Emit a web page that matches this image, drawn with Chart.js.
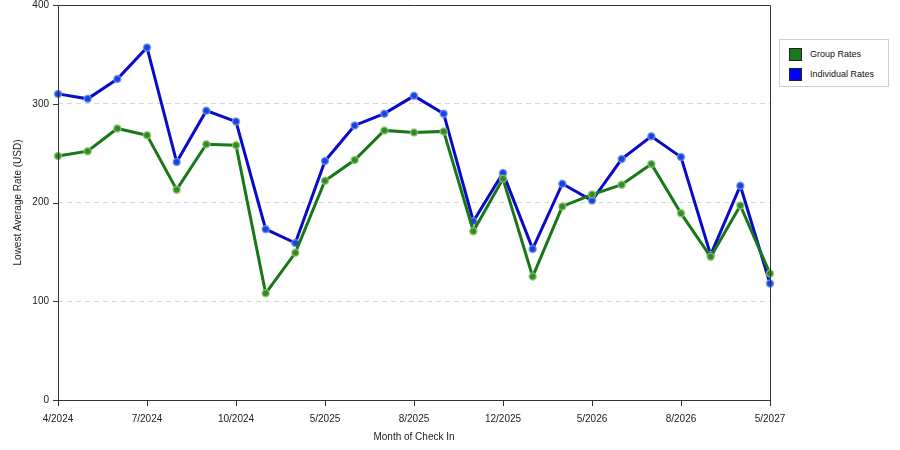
<!DOCTYPE html>
<html>
<head>
<meta charset="utf-8">
<script src="https://cdn.jsdelivr.net/npm/chart.js@4/dist/chart.umd.min.js"></script>
<style>
  html, body { margin: 0; padding: 0; background: #fff; }
  #wrap { position: relative; width: 900px; height: 450px; }
  #legend {
    position: absolute; left: 779px; top: 39px; width: 108px; height: 46px;
    border: 1px solid #cfcfcf; background: #fff;
    font: 9px "Liberation Sans", Arial, sans-serif; color: #111;
  }
  #legend .item { position: absolute; left: 9px; height: 13px; line-height: 13px; }
  #legend .sw { position: absolute; left: 0; top: 0; width: 11px; height: 11px; border: 1px solid #222; }
  #legend .txt { position: absolute; left: 21px; top: 0; white-space: nowrap; }
</style>
</head>
<body>
<div id="wrap">
  <canvas id="chart" width="900" height="450"></canvas>
  <div id="legend"></div>
</div>
<script>
// months of check in (only every third label is printed on the axis)
const months = [
  "4/2024", "5/2024", "6/2024", "7/2024", "8/2024", "9/2024", "10/2024", "11/2024",
  "4/2025", "5/2025", "6/2025", "7/2025", "8/2025", "9/2025", "10/2025", "12/2025",
  "3/2026", "4/2026", "5/2026", "6/2026", "7/2026", "8/2026", "9/2026", "10/2026", "5/2027"
];
const groupRates = [247, 252, 275, 268, 213, 259, 258, 108, 149, 222, 243, 273, 271, 272, 171, 224, 125, 196, 208, 218, 239, 189, 145, 197, 128];
const individualRates = [310, 305, 325, 357, 241, 293, 282, 173, 159, 242, 278, 290, 308, 290, 181, 230, 153, 219, 202, 244, 267, 246, 147, 217, 118];
const yTicks = [0, 100, 200, 300, 400];

const FONT = "'Liberation Sans', Arial, sans-serif";

// frame around the plot + small tick marks on the y axis
const framePlugin = {
  id: "frame",
  afterDraw(chart) {
    const { ctx, chartArea: a, scales } = chart;
    ctx.save();
    ctx.strokeStyle = "#333";
    ctx.lineWidth = 1;
    ctx.beginPath();
    ctx.rect(Math.round(a.left) + 0.5, Math.round(a.top) + 0.5,
             Math.round(a.right - a.left), Math.round(a.bottom - a.top));
    yTicks.forEach(v => {
      const y = Math.round(scales.y.getPixelForValue(v)) + 0.5;
      ctx.moveTo(a.left - 5, y);
      ctx.lineTo(a.left, y);
    });
    ctx.stroke();
    ctx.restore();
  }
};

const ctx = document.getElementById("chart").getContext("2d");
const chart = new Chart(ctx, {
  type: "line",
  data: {
    labels: months,
    datasets: [
      {
        label: "Group Rates",
        data: groupRates,
        borderColor: "#187818",
        backgroundColor: "#1a7a1a",
        pointBackgroundColor: "#348a26",
        pointBorderColor: "rgba(140, 200, 110, 0.8)",
        pointBorderWidth: 1.5,
        pointRadius: 3.5,
        borderWidth: 3,
        tension: 0,
        fill: false,
      },
      {
        label: "Individual Rates",
        data: individualRates,
        borderColor: "#0a0ac8",
        backgroundColor: "#0000ff",
        pointBackgroundColor: "#1a44dc",
        pointBorderColor: "rgba(110, 150, 240, 0.8)",
        pointBorderWidth: 1.5,
        pointRadius: 3.5,
        borderWidth: 3,
        tension: 0,
        fill: false,
      },
    ],
  },
  options: {
    responsive: false,
    animation: false,
    layout: { autoPadding: false, padding: { top: 5, right: 130, left: 0, bottom: 0 } },
    plugins: {
      legend: { display: false },
      title: { display: false },
      tooltip: { enabled: false },
    },
    scales: {
      x: {
        type: "category",
        offset: false,
        afterFit(scale) { scale.height = 50; scale.paddingTop = 0; scale.paddingBottom = 0; },
        grid: { drawOnChartArea: false, tickLength: 6, color: "#333" },
        border: { display: true, color: "#333" },
        ticks: {
          autoSkip: false,
          maxRotation: 0,
          padding: 7,
          color: "#222",
          font: { family: FONT, size: 10 },
          callback: function (value, index) {
            return index % 3 === 0 ? this.getLabelForValue(value) : null;
          },
        },
        title: {
          display: true,
          text: "Month of Check In",
          color: "#222",
          font: { family: FONT, size: 10 },
          padding: { top: 0, bottom: 7 },
        },
      },
      y: {
        min: 0,
        max: 400,
        afterFit(scale) { scale.width = 58; scale.paddingTop = 0; scale.paddingBottom = 0; },
        afterBuildTicks(scale) { scale.ticks = yTicks.map(v => ({ value: v })); },
        grid: { drawTicks: false, color: "#d6d6d6", lineWidth: 1 },
        border: { display: false, dash: [5, 4] },
        ticks: {
          padding: 9,
          color: "#222",
          font: { family: FONT, size: 10 },
        },
        title: {
          display: true,
          text: "Lowest Average Rate (USD)",
          color: "#222",
          font: { family: FONT, size: 10 },
          padding: { top: 12, bottom: 0 },
        },
      },
    },
  },
  plugins: [framePlugin],
});

// legend box on the right, built from the datasets
const legend = document.getElementById("legend");
chart.data.datasets.forEach((ds, i) => {
  const item = document.createElement("div");
  item.className = "item";
  item.style.top = (8 + i * 20) + "px";
  item.innerHTML = '<span class="sw" style="background:' + ds.backgroundColor + '"></span>' +
                   '<span class="txt">' + ds.label + '</span>';
  legend.appendChild(item);
});
</script>
</body>
</html>
